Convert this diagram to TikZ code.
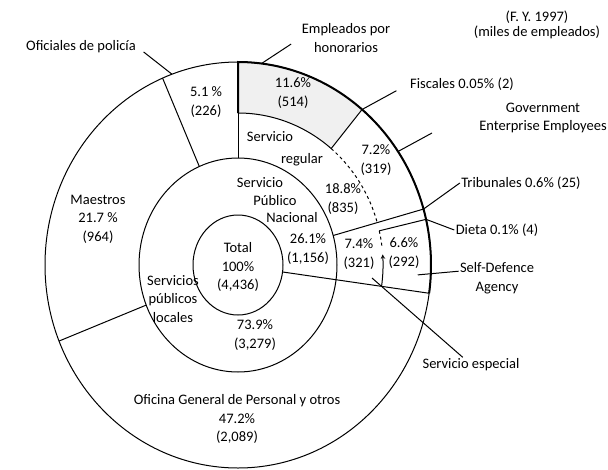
\documentclass[tikz,border=0pt]{standalone}
\usepackage{fontspec}
\setmainfont{Carlito}
\usetikzlibrary{arrows.meta}

\begin{document}
\begin{tikzpicture}[x=1pt,y=1pt,>=stealth,line width=1pt,
  lbl/.style={align=center,inner sep=1pt,font=\fontsize{14.5}{18.5}\selectfont}]
\useasboundingbox (0,0) rectangle (608,-469);
\begin{scope}[shift={(238,-265)}]
% shaded sector of Empleados por honorarios
\fill[black!6] (90:145 and 152) -- (90:193 and 203)
  arc[start angle=90,end angle=50,x radius=193,y radius=203]
  -- (50:145 and 152)
  arc[start angle=50,end angle=90,x radius=145,y radius=152] -- cycle;
% rings
\draw (0,0) ellipse [x radius=45,y radius=50];
\draw (0,0) ellipse [x radius=99,y radius=107];
\draw (0,0) ellipse [x radius=193,y radius=203];
% sector borders
\draw (-8:45 and 50) -- (-8:193 and 203);
\draw (113:99 and 107) -- (113:193 and 203);
\draw (202:99 and 107) -- (202:193 and 203);
\draw (16:99 and 107) -- (16:193 and 203);
\draw (13:145 and 152) -- (13:193 and 203);
\draw (50:145 and 152) -- (50:193 and 203);
\draw (90:99 and 107) -- (90:145 and 152);
\draw (90:145 and 152) arc[start angle=90,end angle=50,x radius=145,y radius=152];
\draw[dashed] (50:145 and 152) arc[start angle=50,end angle=16,x radius=145,y radius=152];
\draw[dashed] (13:145 and 152) arc[start angle=13,end angle=7,x radius=145,y radius=152];
\draw[->] (-8:145 and 152) arc[start angle=-8,end angle=4,x radius=145,y radius=152];
\draw[line width=2pt] (90:145 and 152) -- (90:193 and 203)
  arc[start angle=90,end angle=-8,x radius=193,y radius=203];
% leader ends
\coordinate (polP) at (110:193 and 203);
\coordinate (empP) at (83:193 and 203);
\coordinate (fisP) at (50:193 and 203);
\coordinate (geeP) at (34:193 and 203);
\coordinate (triP) at (16:193 and 203);
\coordinate (dieP) at (13:193 and 203);
\coordinate (sdaP) at (-3:180 and 189);
\coordinate (espP) at (134,-13);
\end{scope}
\coordinate (geeE) at (432,-133);

% labels
\node[lbl] (pol) at (81,-47) {Oficiales de policía};
\node[lbl] (emp) at (346,-38) {Empleados por\\honorarios};
\node[lbl,font=\fontsize{14.5}{15}\selectfont] (fy) at (537,-25) {(F. Y. 1997)\\(miles de empleados)};
\node[lbl] (fis) at (462,-84) {Fiscales 0.05\% (2)};
\node[lbl] (gee) at (543,-118) {Government\\Enterprise Employees};
\node[lbl] (tri) at (521,-183) {Tribunales 0.6\% (25)};
\node[lbl] (die) at (497,-230) {Dieta 0.1\% (4)};
\node[lbl] (sda) at (497,-278) {Self-Defence\\Agency};
\node[lbl] (esp) at (471,-365) {Servicio especial};
\node[lbl] (ofi) at (237,-419) {Oficina General de Personal y otros\\47.2\%\\(2,089)};
\node[lbl] (mae) at (98,-219) {Maestros\\21.7 \%\\(964)};
\node[lbl] (p51) at (206,-102) {5.1 \%\\(226)};
\node[lbl] (p116) at (293,-93) {11.6\%\\(514)};
\node[lbl] (reg1) at (270,-137) {Servicio};
\node[lbl] (reg2) at (302,-160) {regular};
\node[lbl] (p72) at (376,-160) {7.2\%\\(319)};
\node[lbl] (p188) at (343,-199) {18.8\%\\(835)};
\node[lbl] (nac1) at (260,-183) {Servicio};
\node[lbl] (nac2) at (275,-201) {Público};
\node[lbl] (nac3) at (292,-218) {Nacional};
\node[lbl] (p261) at (308,-249) {26.1\%\\(1,156)};
\node[lbl] (tot) at (238,-267) {Total\\100\%\\(4,436)};
\node[lbl] (loc) at (173,-299) {Servicios\\públicos\\locales};
\node[lbl] (p739) at (255,-335) {73.9\%\\(3,279)};
\node[lbl] (p74) at (359,-254) {7.4\%\\(321)};
\node[lbl] (p66) at (404,-253) {6.6\%\\(292)};

% leaders
\draw[shorten <=8pt] (pol.east) -- (polP);
\draw[shorten <=11pt] (emp.west) -- (empP);
\draw[shorten <=14pt] (fis.west) -- (fisP);
\draw (geeE) -- (geeP);
\draw (tri.west) -- (triP);
\draw (die.west) -- (dieP);
\draw (sda.170) -- (sdaP);
\draw (esp.137) -- (espP);
\end{tikzpicture}
\end{document}
